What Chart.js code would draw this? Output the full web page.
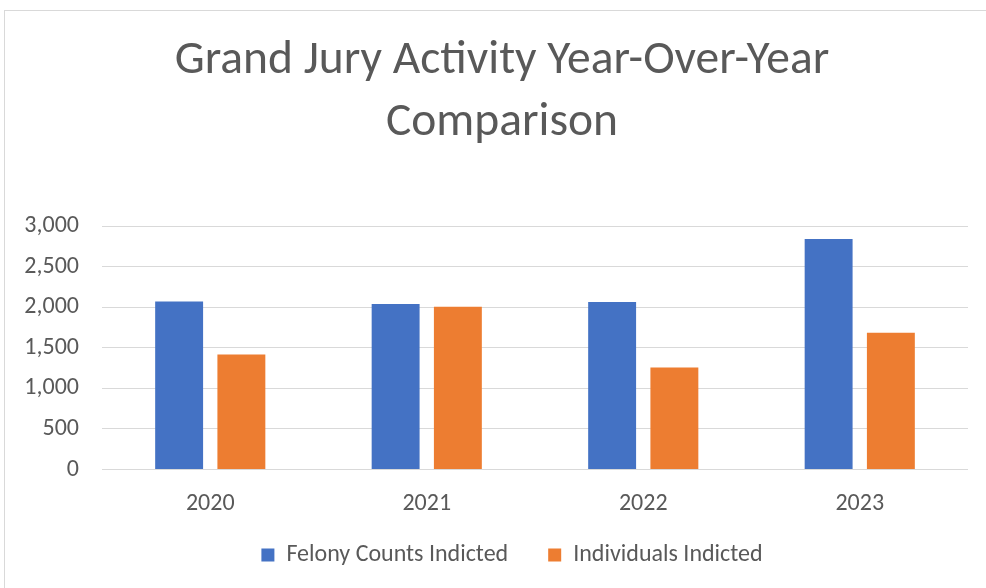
<!DOCTYPE html>
<html>
<head>
<meta charset="utf-8">
<script src="https://cdn.jsdelivr.net/npm/chart.js@4"></script>
<style>
  html, body { margin: 0; padding: 0; background: #fff; }
  #wrap { position: relative; width: 986px; height: 588px; }
  #frame { position: absolute; left: 4px; top: 10px; right: 0; bottom: 0;
           border-left: 1px solid #d9d9d9; border-top: 1px solid #d9d9d9; }
  canvas { position: absolute; left: 0; top: 0; }
</style>
</head>
<body>
<div id="wrap">
  <div id="frame"></div>
  <canvas id="chart" width="986" height="588"></canvas>
</div>
<script>
// data
const years = ['2020', '2021', '2022', '2023'];
const felonyCounts = [2074, 2042, 2066, 2845];
const individuals = [1419, 2008, 1259, 1688];
const yTicks = [0, 500, 1000, 1500, 2000, 2500, 3000];

const FONT = 'Calibri, Carlito, Lato, sans-serif';
const GREY = '#595959';

// legend a fixed height, then nudge title and legend into place
const placeBoxes = {
    id: 'placeBoxes',
    beforeInit(chart) {
        const fit = chart.legend.fit;
        chart.legend.fit = function() {
            fit.call(this);
            this.height = 68.5;
        };
    },
    afterLayout(chart) {
        chart.titleBlock.left = 36;
        chart.legend.left += 56;
        chart.legend.top -= 16.5;
        chart.legend.bottom -= 16.5;
    }
};

const ctx = document.getElementById('chart').getContext('2d');
new Chart(ctx, {
    type: 'bar',
    data: {
        labels: years,
        datasets: [{
            label: 'Felony Counts Indicted',
            data: felonyCounts,
            backgroundColor: '#4472C4',
            categoryPercentage: 0.575,
            barPercentage: 0.77
        }, {
            label: 'Individuals Indicted',
            data: individuals,
            backgroundColor: '#ED7D31',
            categoryPercentage: 0.575,
            barPercentage: 0.77
        }]
    },
    options: {
        responsive: false,
        animation: false,
        layout: { padding: { left: 0, right: 18, top: 0, bottom: 0 } },
        plugins: {
            title: {
                display: true,
                text: ['Grand Jury Activity Year-Over-Year', 'Comparison'],
                color: GREY,
                font: { family: FONT, size: 47.5, weight: 'normal', lineHeight: 1.31 },
                padding: { top: 30, bottom: 72 }
            },
            legend: {
                position: 'bottom',
                labels: {
                    color: GREY,
                    font: { family: FONT, size: 24 },
                    boxWidth: 13,
                    boxHeight: 13,
                    padding: 40
                }
            },
            tooltip: { enabled: false }
        },
        scales: {
            x: {
                grid: { display: false },
                border: { display: false },
                ticks: { color: GREY, font: { family: FONT, size: 24 }, padding: 12 },
                afterFit: function(scale) { scale.height = 50; }
            },
            y: {
                min: 0,
                max: 3000,
                afterBuildTicks: function(scale) {
                    scale.ticks = yTicks.map(v => ({ value: v }));
                },
                grid: { color: '#d9d9d9', lineWidth: 1, drawTicks: false },
                border: { display: false },
                ticks: {
                    color: GREY,
                    font: { family: FONT, size: 24 },
                    padding: 23,
                    callback: v => v.toLocaleString('en-US')
                },
                afterFit: function(scale) { scale.width = 102; }
            }
        }
    },
    plugins: [placeBoxes]
});
</script>
</body>
</html>
